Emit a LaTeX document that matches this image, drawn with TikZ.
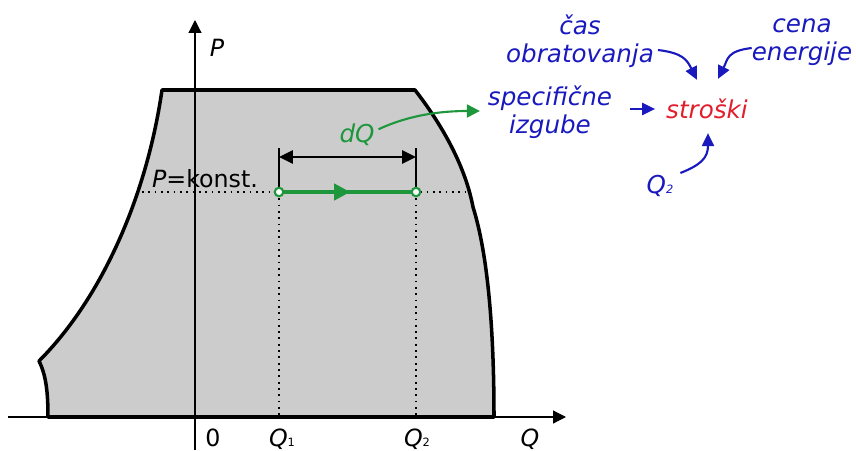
\documentclass[tikz,border=0pt]{standalone}
\usepackage{fontspec}
\setmainfont{DejaVu Sans}
\usetikzlibrary{arrows.meta,calc,decorations.markings}
\definecolor{txtblue}{RGB}{25,25,190}
\definecolor{txtred}{RGB}{225,30,45}
\definecolor{flowgreen}{RGB}{30,150,60}
\definecolor{areagray}{RGB}{204,204,204}
\newcommand{\Qsub}[1]{\textit{Q}{\fontsize{6.5}{7}\selectfont #1}}

\begin{document}
\begin{tikzpicture}[
  x=0.02cm, y=-0.02cm,
  every node/.style={inner sep=1pt},
  axis/.style={line width=0.7pt, -{Triangle[length=2.6mm,width=2.6mm]}},
  outline/.style={line width=2pt, fill=areagray, line join=round},
  dotline/.style={line width=1pt, dash pattern=on 1pt off 2.6pt},
  dimline/.style={line width=0.8pt},
  dimarrow/.style={line width=0.9pt, {Triangle[length=2.8mm,width=2.7mm]}-{Triangle[length=2.8mm,width=2.7mm]}},
  greenline/.style={line width=2.2pt, draw=flowgreen, postaction={decorate},
    decoration={markings, mark=at position 0.52 with {\arrow{Triangle[length=3.2mm,width=3.2mm]}}}},
  endpt/.style={circle, draw=flowgreen, fill=white, line width=1.2pt, minimum size=1.7mm, inner sep=0pt},
  greenarr/.style={draw=flowgreen, line width=1.2pt, -{Triangle[length=2.6mm,width=2.6mm]}},
  bluearr/.style={draw=txtblue, line width=1.2pt, -{Triangle[length=2.6mm,width=2.4mm]}},
  lbl/.style={font=\fontsize{13.5}{15}\selectfont},
  bluetxt/.style={text=txtblue, font=\fontsize{14}{16}\selectfont\itshape, align=center},
  redtxt/.style={text=txtred, font=\fontsize{14}{16}\selectfont\itshape},
]
  \useasboundingbox (0,0) rectangle (856,450);

  % working area
  \draw[outline] (48,417) .. controls (48,392) and (46,375) .. (39,361)
    .. controls (100,300) and (146,200) .. (162,90) -- (415,90)
    .. controls (446,130) and (466,170) .. (473,207)
    .. controls (488,255) and (494,330) .. (494,417) -- cycle;

  % axes
  \coordinate (qstart) at (8,417);
  \coordinate (qend) at (566,417);
  \coordinate (pstart) at (195,450);
  \coordinate (pend) at (195,20);
  \draw[axis] (qstart) -- (qend);
  \draw[axis] (pstart) -- (pend);

  \node[lbl, anchor=base] (plbl) at (217,56) {\textit{P}};
  \node[lbl, anchor=base] (qlbl) at (530,446) {\textit{Q}};
  \node[lbl, anchor=base] (zero) at (213,446) {0};
  \node[lbl, anchor=base] (qonelbl) at (282,446) {\Qsub{1}};
  \node[lbl, anchor=base] (qtwolbl) at (417,446) {\Qsub{2}};
  \node[lbl, anchor=base] (konst) at (205,187) {\textit{P}=konst.};

  % P = const
  \coordinate (q1) at (279,192);
  \coordinate (q2) at (416,192);
  \coordinate (cl) at (142,192);
  \coordinate (cr) at (470,192);
  \draw[dotline] (cl) -- (cr);
  \draw[dotline] (q1) -- (q1 |- qstart);
  \draw[dotline] (q2) -- (q2 |- qstart);

  % dQ
  \coordinate (d1) at (279,148);
  \coordinate (d2) at (416,148);
  \draw[dimline] (d1) -- (q1);
  \draw[dimline] (d2) -- (q2);
  \draw[dimarrow] ($(d1)+(0,9)$) -- ($(d2)+(0,9)$);

  \draw[greenline] (q1) -- (q2);
  \node[endpt] (q1dot) at (q1) {};
  \node[endpt] (q2dot) at (q2) {};

  \node[text=flowgreen, font=\fontsize{14}{16}\selectfont\itshape, anchor=base] (dq) at (357,142) {dQ};

  % costs
  \node[bluetxt] (cas) at (580,41) {čas\\obratovanja};
  \node[bluetxt] (cena) at (802,42) {cena\\energije};
  \node[bluetxt] (spec) at (550,112) {specifične\\izgube};
  \node[redtxt] (str) at (707,109) {stroški};
  \node[bluetxt] (qtwo) at (660,186) {\Qsub{2}};

  \draw[greenarr] ($(dq.east)+(2,-5)$) .. controls +(30,-14) and +(-40,0) .. ($(spec.west)+(-6,-1)$);
  \draw[bluearr] ($(cas.east)+(2,9)$) .. controls +(25,3) and +(-10,-20) .. ($(str.north)+(-10,-17)$);
  \draw[bluearr] ($(cena.west)+(2,6)$) .. controls +(-25,3) and +(10,-20) .. ($(str.north)+(11,-18)$);
  \draw[bluearr, shorten <=3.2mm, shorten >=1.8mm] (spec.east |- str.west) -- (str.west);
  \draw[bluearr] ($(qtwo.east)+(5,-13)$) .. controls +(20,-8) and +(0,25) .. ($(str.south)+(1,12)$);
\end{tikzpicture}
\end{document}
